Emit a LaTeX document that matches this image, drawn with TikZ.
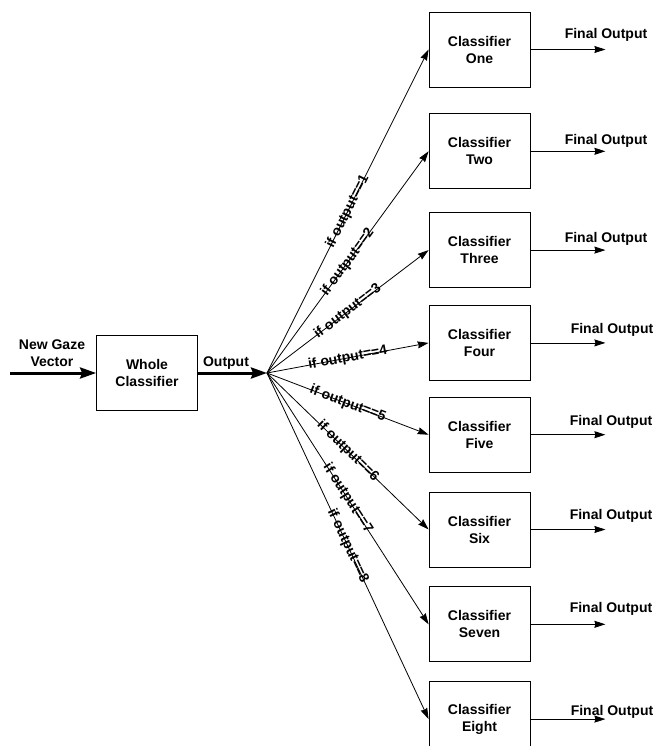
\documentclass[tikz,border=0pt]{standalone}
\usepackage{fontspec}
\setmainfont{Liberation Sans}
\usetikzlibrary{arrows.meta}
\usetikzlibrary{positioning}

\begin{document}
\begin{tikzpicture}[x=1pt,y=-1pt,>={Stealth[length=11pt,width=7pt,inset=1pt]},line width=0.8pt,
  font=\fontsize{14}{17}\selectfont\bfseries]
  \tikzstyle{box}=[draw, rectangle, minimum width=101pt, minimum height=75pt, inner sep=0pt, align=center]
  \tikzstyle{txt}=[inner sep=0pt, align=center]
  \tikzstyle{fat}=[line width=3pt, -{Stealth[length=16pt,width=11pt,inset=2pt]}]
  \tikzstyle{cond}=[midway, sloped, inner sep=0pt]
  \useasboundingbox (0,0) rectangle (654,746);
  % main classifier and the split point
  \node[box] (W) at (147,373) {Whole\\Classifier};
  \coordinate (in) at (10,373);
  \coordinate (hub) at (267,373);
  % second stage classifiers
  \node[box] (C1) at (479.5,49.5) {Classifier\\One};
  \node[box] (C2) [below=26pt of C1] {Classifier\\Two};
  \node[box] (C3) [below=23pt of C2] {Classifier\\Three};
  \node[box] (C4) [below=17pt of C3] {Classifier\\Four};
  \node[box] (C5) [below=16pt of C4] {Classifier\\Five};
  \node[box] (C6) [below=19pt of C5] {Classifier\\Six};
  \node[box] (C7) [below=19pt of C6] {Classifier\\Seven};
  \node[box] (C8) [below=19pt of C7] {Classifier\\Eight};
  \coordinate[right=75pt of C1] (F1);
  \coordinate[right=75pt of C2] (F2);
  \coordinate[right=75pt of C3] (F3);
  \coordinate[right=75pt of C4] (F4);
  \coordinate[right=75pt of C5] (F5);
  \coordinate[right=75pt of C6] (F6);
  \coordinate[right=75pt of C7] (F7);
  \coordinate[right=75pt of C8] (F8);
  % labels
  \node[txt] (N) at (52,353) {New Gaze\\Vector};
  \node[txt] (O) at (226,363) {Output};
  \node[txt] (T1) at (606,35) {Final Output};
  \node[txt] (T2) at (606,141) {Final Output};
  \node[txt] (T3) at (606,239) {Final Output};
  \node[txt] (T4) at (612,330) {Final Output};
  \node[txt] (T5) at (611,422) {Final Output};
  \node[txt] (T6) at (611,516) {Final Output};
  \node[txt] (T7) at (611,609) {Final Output};
  \node[txt] (T8) at (612,712) {Final Output};
  \path[->]
      (in) edge[fat] (W)
      (W) edge[fat] (hub)
      (hub) edge node[cond] {if output==1} (C1.west)
      (hub) edge node[cond] {if output==2} (C2.west)
      (hub) edge node[cond] {if output==3} (C3.west)
      (hub) edge node[cond] {if output==4} (C4.west)
      (hub) edge node[cond] {if output==5} (C5.west)
      (hub) edge node[cond] {if output==6} (C6.west)
      (hub) edge node[cond] {if output==7} (C7.west)
      (hub) edge node[cond] {if output==8} (C8.west)
      (C1) edge (F1)
      (C2) edge (F2)
      (C3) edge (F3)
      (C4) edge (F4)
      (C5) edge (F5)
      (C6) edge (F6)
      (C7) edge (F7)
      (C8) edge (F8);
\end{tikzpicture}
\end{document}
